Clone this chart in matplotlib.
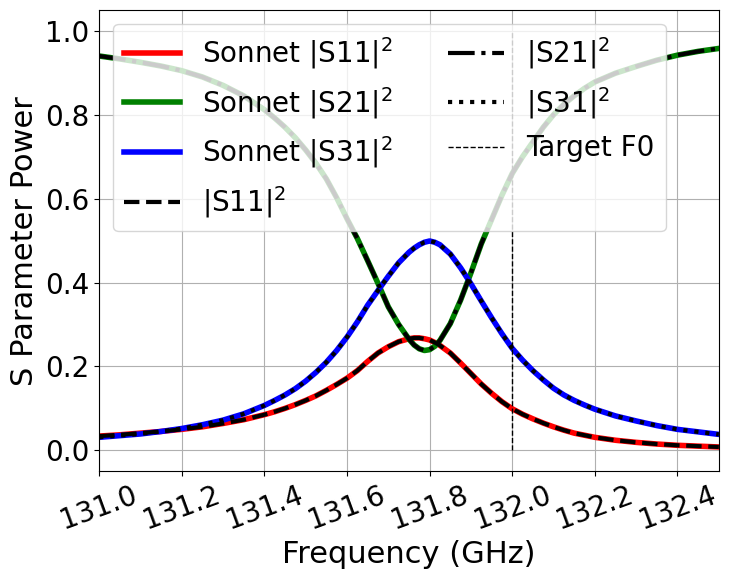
import matplotlib
matplotlib.use("Agg")
import matplotlib.pyplot as plt

# frequency points (GHz)
freq = [131.0, 131.05, 131.1, 131.15, 131.2, 131.25, 131.3, 131.35, 131.4,
        131.425, 131.45, 131.475, 131.5, 131.525, 131.55, 131.575, 131.6,
        131.625, 131.65, 131.675, 131.7, 131.725, 131.75, 131.7625, 131.775,
        131.7875, 131.8, 131.8125, 131.825, 131.85, 131.875, 131.9, 131.925,
        131.95, 131.975, 132.0, 132.025, 132.05, 132.075, 132.1, 132.125,
        132.15, 132.175, 132.2, 132.25, 132.3, 132.35, 132.4, 132.45, 132.5]

s11 = [0.034, 0.037, 0.041, 0.045, 0.050, 0.056, 0.064, 0.073, 0.085,
       0.092, 0.100, 0.109, 0.119, 0.130, 0.143, 0.157, 0.172,
       0.190, 0.212, 0.232, 0.247, 0.259, 0.266, 0.268, 0.268,
       0.266, 0.263, 0.257, 0.250, 0.232, 0.208, 0.183, 0.158,
       0.136, 0.116, 0.099, 0.086, 0.075, 0.065, 0.056, 0.048,
       0.041, 0.036, 0.031, 0.024, 0.019, 0.015, 0.012, 0.010, 0.008]

s21 = [0.940, 0.933, 0.925, 0.916, 0.905, 0.890, 0.870, 0.845, 0.812,
       0.792, 0.770, 0.745, 0.716, 0.684, 0.647, 0.602, 0.552,
       0.505, 0.452, 0.398, 0.342, 0.300, 0.265, 0.251, 0.242,
       0.238, 0.240, 0.248, 0.262, 0.302, 0.358, 0.423, 0.492,
       0.550, 0.608, 0.660, 0.700, 0.735, 0.770, 0.800, 0.825,
       0.845, 0.863, 0.878, 0.899, 0.915, 0.930, 0.942, 0.951, 0.958]

s31 = [0.031, 0.035, 0.039, 0.045, 0.052, 0.061, 0.072, 0.087, 0.107,
       0.119, 0.132, 0.147, 0.165, 0.186, 0.210, 0.238, 0.270,
       0.306, 0.346, 0.381, 0.415, 0.447, 0.472, 0.482, 0.490,
       0.496, 0.499, 0.496, 0.490, 0.468, 0.435, 0.397, 0.356,
       0.316, 0.278, 0.243, 0.215, 0.190, 0.168, 0.148, 0.132,
       0.119, 0.108, 0.098, 0.082, 0.070, 0.059, 0.050, 0.044, 0.038]

f0 = 132.0

plt.rcParams['font.size'] = 20

fig, ax = plt.subplots(figsize=(7.29, 5.79), dpi=100)

ax.plot(freq, s11, color='red', lw=4, label='Sonnet |S11|$^2$')
ax.plot(freq, s21, color='green', lw=4, label='Sonnet |S21|$^2$')
ax.plot(freq, s31, color='blue', lw=4, label='Sonnet |S31|$^2$')
ax.plot(freq, s11, 'k--', lw=3, label='|S11|$^2$')
ax.plot(freq, s21, 'k-.', lw=3, label='|S21|$^2$')
ax.plot(freq, s31, 'k:', lw=3, label='|S31|$^2$')
ax.vlines(f0, 0, 1, colors='k', linestyles='--', lw=1, label='Target F0')

ax.set_xlim(131.0, 132.5)
ax.set_ylim(-0.05, 1.05)
ax.set_xticks([131.0, 131.2, 131.4, 131.6, 131.8, 132.0, 132.2, 132.4])
ax.set_yticks([0.0, 0.2, 0.4, 0.6, 0.8, 1.0])
plt.setp(ax.get_xticklabels(), rotation=20)
ax.grid(True)
ax.set_xlabel('Frequency (GHz)', fontsize=22)
ax.set_ylabel('S Parameter Power', fontsize=22)
ax.legend(loc='upper left', ncol=2)

fig.subplots_adjust(left=0.136, right=0.986, top=0.983, bottom=0.186)
fig.savefig('out.png')
